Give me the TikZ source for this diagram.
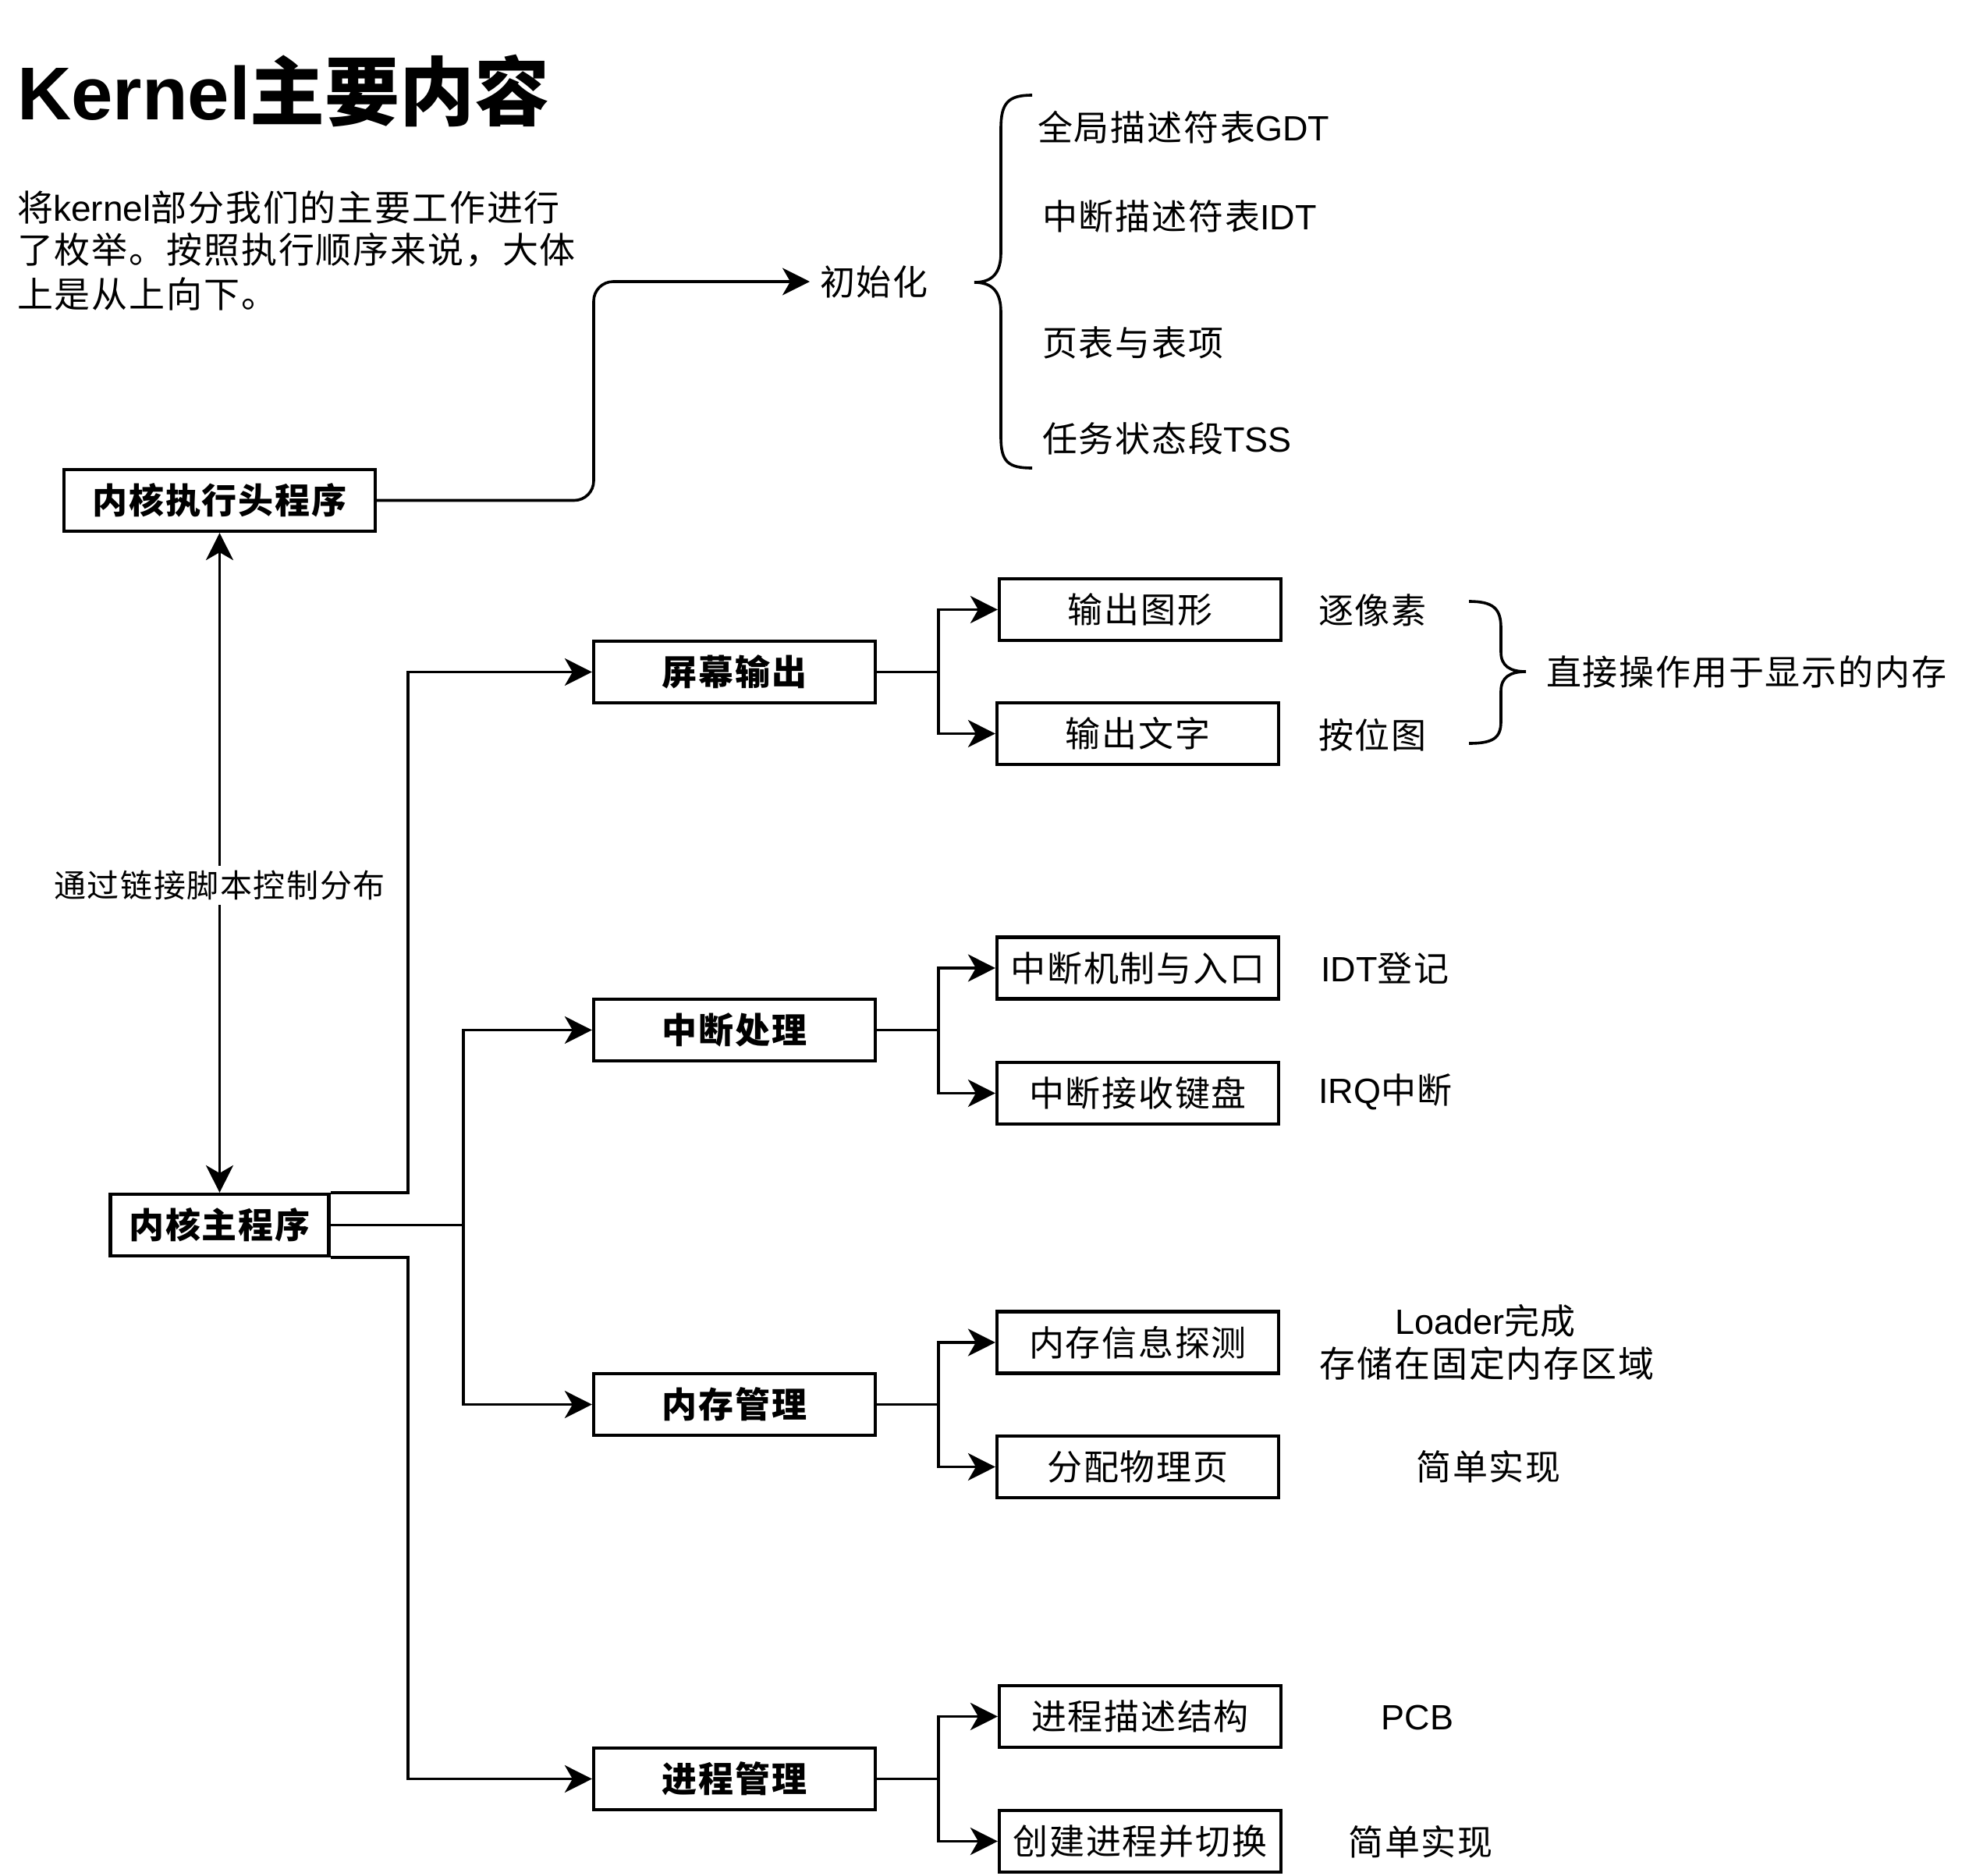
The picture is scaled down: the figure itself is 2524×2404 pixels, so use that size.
\documentclass[tikz,border=0pt]{standalone}
\usepackage{fontspec}
\setmainfont{Liberation Sans}
\newfontfamily\cjk[LetterSpace=4]{Noto Sans CJK SC}
\newfontfamily\cjkt{Noto Sans CJK SC}
\usetikzlibrary{arrows.meta}
\tikzset{
  box/.style={draw, line width=4.2pt, minimum height=79pt, inner sep=0pt,
    font=\cjk\fontsize{45}{54}\selectfont},
  bbox/.style={box, font=\cjk\bfseries\fontsize{45}{54}\selectfont},
  conn/.style={line width=3.6pt},
  tip/.tip={Stealth[length=35pt,width=35pt,inset=10pt]},
  arr/.style={conn, -tip},
  lbl/.style={inner sep=0pt, anchor=west, font=\cjk\fontsize{45}{54}\selectfont},
  clbl/.style={lbl, anchor=center},
  brace/.style={line width=3.6pt},
}
\begin{document}
\begin{tikzpicture}[x=1pt,y=-1pt]
\useasboundingbox (0,0) rectangle (2524,2404);

% title and description
\node[anchor=base west, inner sep=0pt, font=\bfseries\fontsize{96}{110}\selectfont] (title) at (22,153) {Kernel{\cjkt 主要内容}};
\node[lbl, font=\fontsize{46}{55}\selectfont] (d1) at (22,266) {{\cjk 将}kernel{\cjk 部分我们的主要工作进行}};
\node[lbl, font=\cjk\fontsize{46}{55}\selectfont] (d2) at (22,320) {了枚举。按照执行顺序来说，大体};
\node[lbl, font=\cjk\fontsize{46}{55}\selectfont] (d3) at (22,377) {上是从上向下。};

% main boxes
\node[bbox, minimum width=399pt] (head) at (281.5,641.5) {内核执行头程序};
\node[bbox, minimum width=280pt] (main) at (281.5,1570.5) {内核主程序};

\node[bbox, minimum width=361pt] (scr)  at (941.5,861.5)  {屏幕输出};
\node[bbox, minimum width=361pt] (int)  at (941.5,1320.5) {中断处理};
\node[bbox, minimum width=361pt] (mem)  at (941.5,1800.5) {内存管理};
\node[bbox, minimum width=361pt] (proc) at (941.5,2280.5) {进程管理};

\node[box, minimum width=361pt] (gfx)    at (1461.5,781.5)  {输出图形};
\node[box, minimum width=361pt] (txt)    at (1458.5,940.5)  {输出文字};
\node[box, minimum width=361pt] (intm)   at (1458.5,1241)   {中断机制与入口};
\node[box, minimum width=361pt] (kbd)    at (1458.5,1401.5) {中断接收键盘};
\node[box, minimum width=361pt] (mdet)   at (1458.5,1721)   {内存信息探测};
\node[box, minimum width=361pt] (palloc) at (1458.5,1880.5) {分配物理页};
\node[box, minimum width=361pt] (pcb)    at (1461.5,2200.5) {进程描述结构};
\node[box, minimum width=361pt] (psw)    at (1461.5,2360.5) {创建进程并切换};

% init section
\node[lbl, inner xsep=13pt] (init) at (1038,361) {初始化};
\coordinate (bend) at (761,361);
\draw[arr, rounded corners=25pt] (head.east) -| (bend) -- (init.west);

\node[lbl] (gdt) at (1330,163) {全局描述符表{\rmfamily GDT}};
\node[lbl] (idt) at (1336,277) {中断描述符表{\rmfamily IDT}};
\node[lbl] (pg)  at (1336,439) {页表与表项};
\node[lbl] (tss) at (1336,562) {任务状态段{\rmfamily TSS}};

\draw[brace] (1323,122) .. controls (1292,122) and (1283,132) .. (1283,165)
  -- (1283,324) .. controls (1283,350) and (1272,362) .. (1249,362)
  .. controls (1272,362) and (1283,374) .. (1283,400)
  -- (1283,560) .. controls (1283,592) and (1292,600) .. (1323,600);

% link script arrow
\draw[conn, tip-tip] (head.south) -- node[pos=0.534, fill=white, inner xsep=4pt, inner ysep=6pt, font=\cjk\fontsize{41}{50}\selectfont] (lk) {通过链接脚本控制分布} (main.north);

% left tree connectors
\draw[arr] (main.north east) -- ++(99.5,0) |- (scr.west);
\draw[arr] (main.east) -- ++(170.5,0) |- (int.west);
\draw[arr] (main.east) -- ++(170.5,0) |- (mem.west);
\draw[arr] (main.south east) -- ++(99.5,0) |- (proc.west);

% right tree connectors
\draw[arr] (scr.east) -- ([xshift=79pt]scr.east) |- (gfx.west);
\draw[arr] (scr.east) -- ([xshift=79pt]scr.east) |- (txt.west);
\draw[arr] (int.east) -- ([xshift=79pt]int.east) |- (intm.west);
\draw[arr] (int.east) -- ([xshift=79pt]int.east) |- (kbd.west);
\draw[arr] (mem.east) -- ([xshift=79pt]mem.east) |- (mdet.west);
\draw[arr] (mem.east) -- ([xshift=79pt]mem.east) |- (palloc.west);
\draw[arr] (proc.east) -- ([xshift=79pt]proc.east) |- (pcb.west);
\draw[arr] (proc.east) -- ([xshift=79pt]proc.east) |- (psw.west);

% right labels
\node[lbl] (pix) at (1690,782) {逐像素};
\node[lbl] (bmp) at (1690,942) {按位图};
\draw[brace] (1883,771) .. controls (1914,771) and (1924,780) .. (1924,805)
  -- (1924,836) .. controls (1924,854) and (1936,861) .. (1956,861)
  .. controls (1936,861) and (1924,868) .. (1924,886)
  -- (1924,925) .. controls (1924,946) and (1914,953) .. (1883,953);
\node[lbl] (vmem) at (1982,861) {直接操作用于显示的内存};

\node[lbl] (idtr) at (1693,1241) {{\rmfamily IDT}登记};
\node[lbl] (irq)  at (1690,1400) {{\rmfamily IRQ}中断};
\node[clbl] (ldr)  at (1904,1693) {{\rmfamily Loader}完成};
\node[clbl, font=\cjk\fontsize{46}{55}\selectfont] (stor) at (1906,1748) {存储在固定内存区域};
\node[clbl] (simp1) at (1908,1880) {简单实现};
\node[clbl] (pcbl)  at (1817,2202) {\rmfamily PCB};
\node[clbl] (simp2) at (1821,2361) {简单实现};
\end{tikzpicture}
\end{document}
